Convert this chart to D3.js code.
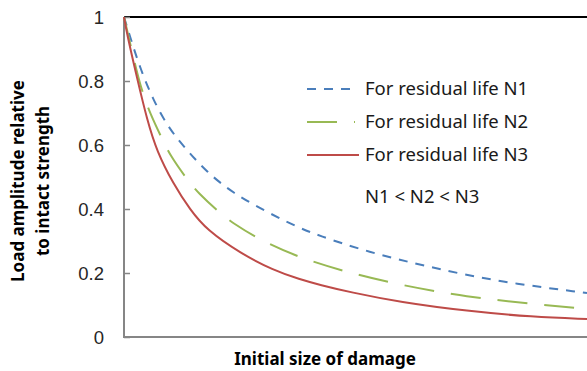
<!DOCTYPE html>
<html lang="en">
<head>
    <meta charset="UTF-8">
    <title>Load amplitude vs initial damage</title>
    <script src="https://d3js.org/d3.v7.min.js"></script>
    <style>
        body {
            margin: 0;
            background: #ffffff;
            font-family: "Noto Sans", Arial, sans-serif;
        }
        svg {
            display: block;
        }
        .tick-label {
            font-size: 18.5px;
            fill: #262626;
        }
        .axis-title {
            font-size: 17px;
            font-weight: bold;
            fill: #000;
        }
        .legend-text {
            font-size: 18.5px;
            fill: #1a1a1a;
        }
    </style>
</head>
<body>
    <div id="chart"></div>

    <script>
        // values (x is the relative initial size of damage, 0..1)
        const xN1 = [0, 0.017, 0.035, 0.063, 0.099, 0.136, 0.179, 0.235, 0.309, 0.38, 0.417, 0.525, 0.667, 0.812, 1];
        const yN1 = [1, 0.92, 0.84, 0.74, 0.647, 0.584, 0.515, 0.45, 0.39, 0.34, 0.319, 0.266, 0.216, 0.172, 0.1375];

        const xN2 = [0, 0.028, 0.041, 0.056, 0.082, 0.099, 0.136, 0.16, 0.207, 0.235, 0.294, 0.38, 0.488, 0.596, 0.741, 0.883, 1];
        const yN2 = [1, 0.825, 0.76, 0.70, 0.62, 0.569, 0.493, 0.45, 0.3875, 0.356, 0.303, 0.247, 0.2, 0.1625, 0.125, 0.103, 0.0875];

        const xN3 = [0, 0.006, 0.028, 0.05, 0.071, 0.106, 0.143, 0.179, 0.251, 0.322, 0.38, 0.423, 0.488, 0.596, 0.741, 0.883, 1];
        const yN3 = [1, 0.95, 0.81, 0.678, 0.58, 0.48, 0.397, 0.334, 0.262, 0.209, 0.18, 0.163, 0.14, 0.109, 0.081, 0.0625, 0.056];

        const seriesNames = ["For residual life N1", "For residual life N2", "For residual life N3"];
        const yTicks = [0, 0.2, 0.4, 0.6, 0.8, 1];
        const yTickLabels = ["0", "0.2", "0.4", "0.6", "0.8", "1"];

        const w = 587;
        const h = 371;
        const margin = { top: 17, right: 0, bottom: 34, left: 124 };

        const series = [
            { name: seriesNames[0], x: xN1, y: yN1, color: "#4a7ebb", dash: "9,8" },
            { name: seriesNames[1], x: xN2, y: yN2, color: "#98b954", dash: "30,17" },
            { name: seriesNames[2], x: xN3, y: yN3, color: "#be4b48", dash: null }
        ];

        const xScale = d3.scaleLinear()
            .domain([0, 1])
            .range([margin.left, w - margin.right]);

        const yScale = d3.scaleLinear()
            .domain([0, 1])
            .range([h - margin.bottom, margin.top]);

        const svg = d3.select("#chart")
            .append("svg")
            .attr("width", w)
            .attr("height", h);

        // top border at 1 (black)
        svg.append("line")
            .attr("x1", xScale(0))
            .attr("x2", xScale(1))
            .attr("y1", yScale(1))
            .attr("y2", yScale(1))
            .attr("stroke", "#000")
            .attr("stroke-width", 2);

        // y axis: ticks point inwards, labels drawn separately
        const yAxis = d3.axisRight(yScale)
            .tickValues(yTicks)
            .tickSize(6)
            .tickFormat("");

        const yG = svg.append("g")
            .attr("transform", `translate(${xScale(0)}, 0)`)
            .call(yAxis);
        yG.select(".domain").remove();
        yG.selectAll(".tick line")
            .attr("stroke", "#868686")
            .attr("stroke-width", 1.5);

        yG.selectAll(".tick")
            .append("text")
            .attr("class", "tick-label")
            .attr("x", -20)
            .attr("dy", "0.35em")
            .attr("text-anchor", "end")
            .attr("fill", null)
            .text((d, i) => yTickLabels[i]);

        // axis lines
        svg.append("line")
            .attr("x1", xScale(0))
            .attr("x2", xScale(0))
            .attr("y1", yScale(1))
            .attr("y2", yScale(0) + 1)
            .attr("stroke", "#868686")
            .attr("stroke-width", 2);

        svg.append("line")
            .attr("x1", xScale(0) - 1)
            .attr("x2", xScale(1))
            .attr("y1", yScale(0))
            .attr("y2", yScale(0))
            .attr("stroke", "#868686")
            .attr("stroke-width", 2);

        // curves (basis smooths out the reading noise)
        const line = d3.line()
            .x(d => xScale(d[0]))
            .y(d => yScale(d[1]))
            .curve(d3.curveBasis);

        series.forEach(s => {
            const pts = s.x.map((xv, i) => [xv, s.y[i]]);
            svg.append("path")
                .datum(pts)
                .attr("fill", "none")
                .attr("stroke", s.color)
                .attr("stroke-width", 2)
                .attr("stroke-dasharray", s.dash)
                .attr("d", line);
        });

        // legend
        const legend = svg.append("g");
        series.forEach((s, i) => {
            const cy = 89 + i * 33;
            legend.append("line")
                .attr("x1", 307)
                .attr("x2", i === 2 ? 359 : 355)
                .attr("y1", cy)
                .attr("y2", cy)
                .attr("stroke", s.color)
                .attr("stroke-width", 2)
                .attr("stroke-dasharray", s.dash);
            legend.append("text")
                .attr("class", "legend-text")
                .attr("x", 365)
                .attr("y", cy)
                .attr("dy", "0.35em")
                .text(s.name);
        });
        legend.append("text")
            .attr("class", "legend-text")
            .attr("x", 365)
            .attr("y", 197)
            .attr("dy", "0.35em")
            .text("N1 < N2 < N3");

        // axis titles
        svg.append("text")
            .attr("class", "axis-title")
            .attr("x", 325)
            .attr("y", 365)
            .attr("text-anchor", "middle")
            .text("Initial size of damage");

        const yTitle = svg.append("text")
            .attr("class", "axis-title")
            .attr("text-anchor", "middle")
            .attr("transform", "translate(24, 181) rotate(-90)");
        yTitle.append("tspan")
            .attr("x", 0)
            .attr("y", 0)
            .text("Load amplitude relative");
        yTitle.append("tspan")
            .attr("x", 0)
            .attr("y", 25)
            .text("to intact strength");
    </script>
</body>
</html>
